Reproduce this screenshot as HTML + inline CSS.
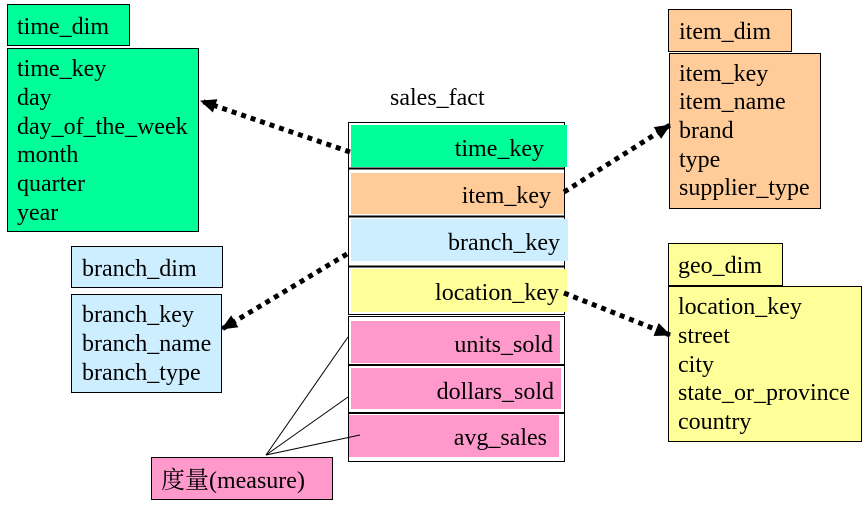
<!DOCTYPE html>
<html><head><meta charset="utf-8"><style>
html,body{margin:0;padding:0;background:#fff;}
svg{display:block;}
text{font-family:"Liberation Serif","Noto Serif CJK SC",serif;font-size:24px;fill:#000;}
</style></head><body>
<svg width="866" height="511" viewBox="0 0 866 511" xmlns="http://www.w3.org/2000/svg" font-family="'Liberation Serif', serif">
<defs>
<marker id="ah" markerWidth="16" markerHeight="14" refX="15" refY="7" orient="auto" markerUnits="userSpaceOnUse" viewBox="0 0 16 14">
<path d="M0,0 L16,7 L0,14 z" fill="#000"/>
</marker>
</defs>
<!-- time_dim -->
<rect x="7.5" y="4.5" width="122" height="41" fill="#00ff99" stroke="#000"/>
<text x="17" y="34">time_dim</text>
<rect x="7.5" y="48.5" width="191" height="183" fill="#00ff99" stroke="#000"/>
<text x="17" y="76">time_key</text>
<text x="17" y="105">day</text>
<text x="17" y="134">day_of_the_week</text>
<text x="17" y="162">month</text>
<text x="17" y="191">quarter</text>
<text x="17" y="220">year</text>
<!-- item_dim -->
<rect x="668.5" y="9.5" width="123" height="42" fill="#ffcc99" stroke="#000"/>
<text x="679" y="39">item_dim</text>
<rect x="669.5" y="53.5" width="151" height="155" fill="#ffcc99" stroke="#000"/>
<text x="679" y="81">item_key</text>
<text x="679" y="109">item_name</text>
<text x="679" y="138">brand</text>
<text x="679" y="167">type</text>
<text x="679" y="195">supplier_type</text>
<!-- branch_dim -->
<rect x="71.5" y="246.5" width="151" height="41" fill="#cceeff" stroke="#000"/>
<text x="82" y="276">branch_dim</text>
<rect x="71.5" y="294.5" width="150" height="98" fill="#cceeff" stroke="#000"/>
<text x="82" y="322">branch_key</text>
<text x="82" y="351">branch_name</text>
<text x="82" y="380">branch_type</text>
<!-- geo_dim -->
<rect x="668.5" y="243.5" width="114" height="42" fill="#ffff99" stroke="#000"/>
<text x="678" y="273">geo_dim</text>
<rect x="668.5" y="286.5" width="193" height="155" fill="#ffff99" stroke="#000"/>
<text x="678" y="314">location_key</text>
<text x="678" y="343">street</text>
<text x="678" y="372">city</text>
<text x="678" y="400">state_or_province</text>
<text x="678" y="429">country</text>
<!-- sales_fact -->
<text x="390" y="105">sales_fact</text>
<rect x="348.5" y="122.5" width="216" height="192" fill="#fff" stroke="#000"/>
<rect x="348.5" y="316.5" width="216" height="145" fill="#fff" stroke="#000"/>
<rect x="351" y="125" width="216" height="42" fill="#00ff99"/>
<line x1="348" y1="168.5" x2="565" y2="168.5" stroke="#000" stroke-width="2"/>
<rect x="351" y="173" width="213" height="41" fill="#ffcc99"/>
<line x1="348" y1="216.5" x2="565" y2="216.5" stroke="#000" stroke-width="2"/>
<rect x="351" y="219" width="217" height="42" fill="#cceeff"/>
<line x1="348" y1="266.5" x2="565" y2="266.5" stroke="#000" stroke-width="2"/>
<rect x="351" y="269" width="216" height="43" fill="#ffff99"/>
<rect x="351" y="321" width="209" height="42" fill="#ff99cc"/>
<line x1="348" y1="365" x2="565" y2="365" stroke="#000" stroke-width="2"/>
<rect x="351" y="368" width="210" height="41" fill="#ff99cc"/>
<line x1="348" y1="413" x2="565" y2="413" stroke="#000" stroke-width="2"/>
<rect x="349" y="415" width="210" height="42" fill="#ff99cc"/>
<text x="544" y="156" text-anchor="end">time_key</text>
<text x="551" y="203" text-anchor="end">item_key</text>
<text x="560" y="250" text-anchor="end">branch_key</text>
<text x="559" y="300" text-anchor="end">location_key</text>
<text x="553" y="352" text-anchor="end">units_sold</text>
<text x="554" y="399" text-anchor="end">dollars_sold</text>
<text x="547" y="445" text-anchor="end">avg_sales</text>
<!-- measure -->
<rect x="151.5" y="457.5" width="181" height="42" fill="#ff99cc" stroke="#000"/>
<text x="161" y="488">度量(measure)</text>
<g stroke="#000" stroke-width="1">
<line x1="266" y1="455" x2="348" y2="337"/>
<line x1="266" y1="455" x2="348" y2="397"/>
<line x1="266" y1="455" x2="360" y2="435"/>
</g>
<!-- arrows -->
<g stroke="#000" stroke-width="5" stroke-dasharray="5,5" fill="none" marker-end="url(#ah)">
<line x1="350" y1="152" x2="201" y2="101"/>
<line x1="564" y1="192" x2="670" y2="125"/>
<line x1="347" y1="254" x2="222" y2="329"/>
<line x1="564" y1="293" x2="670" y2="335"/>
</g>
</svg>
</body></html>
